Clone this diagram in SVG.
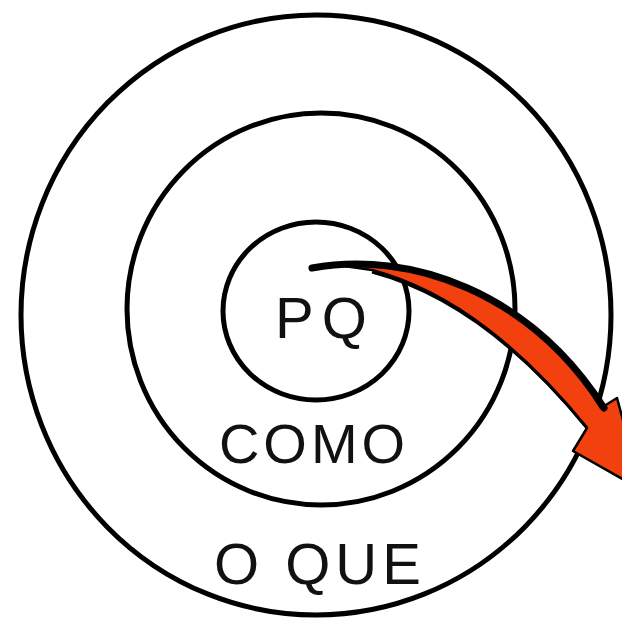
<svg xmlns="http://www.w3.org/2000/svg" width="622" height="623" viewBox="0 0 622 623">
<style>
.ring{fill:none;stroke:#000;stroke-width:5}
.lbl{font-family:"Liberation Sans","DejaVu Sans",sans-serif;fill:#111;text-anchor:middle;font-weight:normal}
</style>
<rect width="622" height="623" fill="#fff"/>
<g id="outer"><ellipse class="ring" cx="316" cy="315" rx="295" ry="300"/>
<text class="lbl" x="320" y="584" font-size="58" letter-spacing="5">O QUE</text></g>
<g id="middle"><ellipse class="ring" cx="321" cy="309" rx="194" ry="196"/>
<text class="lbl" x="314" y="463" font-size="56" letter-spacing="4">COMO</text></g>
<g id="inner"><ellipse class="ring" cx="316" cy="311" rx="93" ry="89"/>
<text class="lbl" x="325" y="338" font-size="58" letter-spacing="8">PQ</text></g>
<g id="connectors">
<path d="M330 264 C425 258 530 292 601 408 L617 398 L642 490 L573 451 L587 428 C525 352 455 292 372 270 Z" fill="#F2400F" stroke="#000" stroke-width="2.5" stroke-linejoin="round"/>
<path d="M372 272 C455 294 525 352 587 428" fill="none" stroke="#000" stroke-width="3"/>
<path d="M312 268 C410 250 530 292 604 408" fill="none" stroke="#000" stroke-width="7" stroke-linecap="round"/>
</g>
</svg>
